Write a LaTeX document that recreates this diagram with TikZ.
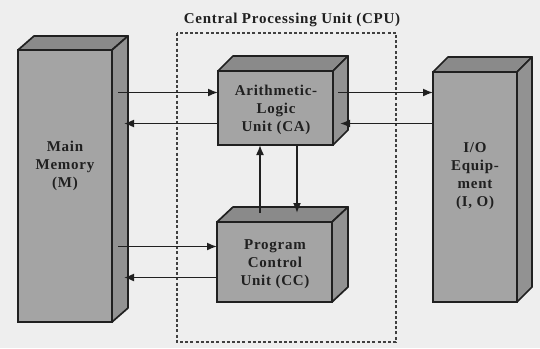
\documentclass[tikz,border=0pt]{standalone}
\usepackage{fontspec}
\setmainfont{Liberation Serif}
\newfontfamily\lblfont{Liberation Serif}[LetterSpace=5]
\usetikzlibrary{arrows.meta,calc}
\definecolor{bgcol}{HTML}{EEEEEE}
\definecolor{frontcol}{HTML}{A4A4A4}
\definecolor{topcol}{HTML}{8A8A8A}
\definecolor{sidecol}{HTML}{929292}
\definecolor{inkcol}{HTML}{202020}
\tikzset{
  front/.style={rectangle, fill=frontcol, draw=inkcol, line width=1.7pt, inner sep=0pt, outer sep=0pt},
  topface/.style={fill=topcol, draw=inkcol, line width=1.7pt, line join=round},
  sideface/.style={fill=sidecol, draw=inkcol, line width=1.7pt, line join=round},
  lbl/.style={align=center, text=inkcol, font=\lblfont\bfseries\fontsize{15}{18}\selectfont},
  arr/.style={draw=inkcol, line width=1.6pt, -{Latex[length=10pt,width=8pt]}},
  cpubox/.style={draw=black!75, line width=1.2pt, dash pattern=on 3pt off 2.2pt}
}
\newcommand\threedfaces[5]{% name, w, h, dx, dy
  \filldraw[topface] (#1.north west) -- ++(#4,-#5) -- ++(#2,0) -- ++(-#4,#5) -- cycle;
  \filldraw[sideface] (#1.north east) -- ++(#4,-#5) -- ++(0,#3) -- ++(-#4,#5) -- cycle;
}
\begin{document}
\begin{tikzpicture}[x=1pt,y=-1pt]
\fill[bgcol] (0,0) rectangle (540,348);
\useasboundingbox (0,0) rectangle (540,348);

% CPU dashed box and title
\draw[cpubox] (177,33) rectangle (396,342);
\node[font=\lblfont\bfseries\fontsize{15}{17}\selectfont, text=inkcol] (cputitle) at (292,20) {Central Processing Unit (CPU)};

% Main memory
\node[front, minimum width=94pt, minimum height=272pt] (mem) at (65,186) {};
\threedfaces{mem}{94}{272}{16}{14}
\node[lbl] (memlbl) at (65,166) {Main\\Memory\\(M)};

% ALU
\node[front, minimum width=115pt, minimum height=74pt] (alu) at (275.5,108) {};
\threedfaces{alu}{115}{74}{15}{15}
\node[lbl] (alulbl) at (276,110) {Arithmetic-\\Logic\\Unit (CA)};

% PCU
\node[front, minimum width=115pt, minimum height=80pt] (pcu) at (274.5,262) {};
\threedfaces{pcu}{115}{80}{16}{15}
\node[lbl] (pculbl) at (275,264) {Program\\Control\\Unit (CC)};

% I/O
\node[front, minimum width=84pt, minimum height=230pt] (io) at (475,187) {};
\threedfaces{io}{84}{230}{15}{15}
\node[lbl] (iolbl) at (475,176) {I/O\\Equip-\\ment\\(I, O)};

% helper coordinates
\coordinate (aluhi) at ([yshift=15.5pt]alu.west);
\coordinate (alulo) at ([yshift=-15.5pt]alu.west);
\coordinate (pcuhi) at ([yshift=15.5pt]pcu.west);
\coordinate (pculo) at ([yshift=-15.5pt]pcu.west);

% memory <-> ALU
\draw[arr] ($(mem.east |- aluhi)+(6,0)$) -- (aluhi);
\draw[arr] (alulo) -- ($(mem.east |- alulo)+(12,0)$);
% memory <-> PCU
\draw[arr] ($(mem.east |- pcuhi)+(6,0)$) -- (pcuhi);
\draw[arr] (pculo) -- ($(mem.east |- pculo)+(12,0)$);
% ALU <-> I/O
\draw[arr] ($(alu.east |- aluhi)+(5,0)$) -- (io.west |- aluhi);
\draw[arr] (io.west |- alulo) -- ($(alu.east |- alulo)+(7,0)$);
% ALU <-> PCU
\draw[arr] ($(pcu.north west)+(43,-9)$) -- ($(alu.south west)+(42,0)$);
\draw[arr] ($(alu.south west)+(79,0)$) -- ($(pcu.north west)+(80,-9)$);
\end{tikzpicture}
\end{document}
